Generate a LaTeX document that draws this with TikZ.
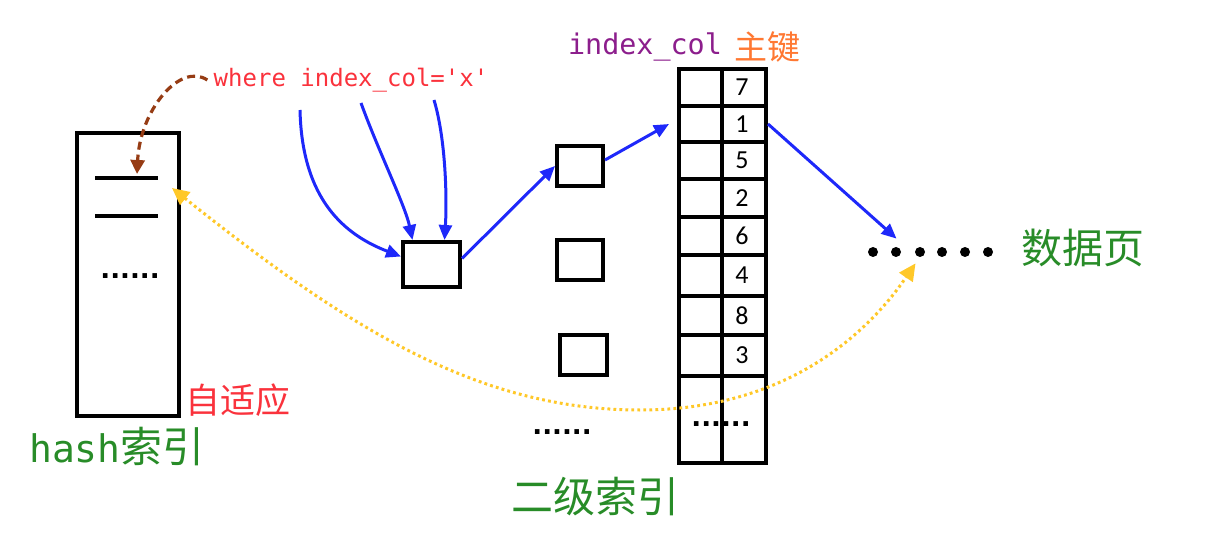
\documentclass[tikz,border=0pt]{standalone}
\usepackage{fontspec}
\setmonofont{DejaVu Sans Mono}
\newfontfamily\cjk{Noto Sans CJK SC}
\newfontfamily\numf{Carlito}
\newfontfamily\dotf{DejaVu Sans}
\usetikzlibrary{arrows.meta,calc,fit}
\definecolor{myblue}{RGB}{30,40,250}
\definecolor{myred}{RGB}{250,50,60}
\definecolor{mybrown}{RGB}{150,60,20}
\definecolor{myyellow}{RGB}{255,200,40}
\definecolor{mygreen}{RGB}{40,140,40}
\definecolor{mypurple}{RGB}{140,30,140}
\definecolor{myorange}{RGB}{255,120,50}
\begin{document}
\begin{tikzpicture}[x=0.5pt,y=-0.5pt,
  box/.style={draw,line width=2pt,inner sep=0pt},
  cellbox/.style={draw,line width=2pt,inner sep=0pt},
  bluearrow/.style={draw=myblue,line width=1.5pt,-{Triangle[length=7.5pt,width=6.5pt]}},
  brownarrow/.style={draw=mybrown,line width=1.6pt,dash pattern=on 4pt off 2.5pt,-{Triangle[length=7pt,width=7pt]}},
  yellowarrow/.style={draw=myyellow,line width=1.5pt,dash pattern=on 1.4pt off 1.6pt,{Triangle[length=8.5pt,width=8pt]}-{Triangle[length=8.5pt,width=8pt]}},
  dotstext/.style={font=\dotf\bfseries\fontsize{13}{13}\selectfont,inner sep=0pt},
  numtext/.style={font=\numf\fontsize{13}{13}\selectfont,inner sep=0pt},
  bigdot/.style={circle,fill=black,inner sep=0pt,minimum size=5pt}
]
\useasboundingbox (0,0) rectangle (1224,550);
% hash index box
\node[box,minimum width=51pt,minimum height=141.5pt] (hash) at (128,274.5) {};
\draw[line width=2pt] (95,178) -- (158,178);
\draw[line width=2pt] (95,216) -- (158,216);
\node[dotstext] (hdots) at (130,276) {......};
\coordinate (line1top) at (137,174);
\coordinate (line1right) at (172,188);
% texts
\node[inner sep=0pt,text=myred,font=\ttfamily\fontsize{12}{12}\selectfont] (where) at (351,80) {where index\_col='x'};
\node[inner sep=0pt,text=myred,font=\cjk\fontsize{17.5}{17.5}\selectfont] (adapt) at (238,400) {自适应};
\node[inner sep=0pt,text=mygreen] (hashlabel) at (117,447) {{\ttfamily\fontsize{19}{19}\selectfont hash}{\cjk\fontsize{21}{21}\selectfont 索引}};
\node[inner sep=0pt,text=mygreen,font=\cjk\fontsize{21}{21}\selectfont] (sec) at (595,497) {二级索引};
\node[inner sep=0pt,text=mygreen,font=\cjk\fontsize{20.5}{20.5}\selectfont] (datalabel) at (1083,248) {数据页};
\node[inner sep=0pt,text=mypurple,font=\ttfamily\fontsize{14.2}{14.2}\selectfont] (icol) at (645,47) {index\_col};
\node[inner sep=0pt,text=myorange,font=\cjk\fontsize{16.5}{16.5}\selectfont] (pk) at (767,47) {主键};
% small boxes
\node[box,minimum width=28.5pt,minimum height=22.5pt] (A) at (431.5,264.5) {};
\node[box,minimum width=23pt,minimum height=20pt] (B) at (580,166) {};
\node[box,minimum width=23pt,minimum height=20pt] (C) at (580,260) {};
\node[box,minimum width=23.5pt,minimum height=20pt] (D) at (583.5,355) {};
\node[dotstext] (mdots) at (562,432) {......};
% table
\foreach \t/\b/\n/\i in {69/106/7/1,106/142/1/2,142/179/5/3,179/217/2/4,217/255/6/5,255/296/4/6,296/335/8/7,335/376/3/8}{
  \node[cellbox,fit={(679,\t)(722,\b)}] (l\i) {};
  \node[cellbox,fit={(722,\t)(766,\b)}] (r\i) {};
  \node[numtext] (n\i) at ($(r\i.center)+(-1pt,0)$) {\n};
}
\node[cellbox,fit={(679,376)(722,463)}] (l9) {};
\node[cellbox,fit={(722,376)(766,463)}] (r9) {};
\node[dotstext] (tdots) at (721,424) {......};
% data dots
\node[inner sep=0pt,fit={(868,247)(993,257)}] (data) {};
\foreach \x [count=\k] in {873,896,920,942,965,988}{
  \node[bigdot] (dd\k) at (\x,252) {};
}
% where arrows
\coordinate (w1) at (300,110);
\coordinate (w2) at (361,103);
\coordinate (w3) at (434,100);
\draw[bluearrow] (w1) .. controls (302,200) and (345,235) .. ([yshift=4pt]A.west);
\draw[bluearrow] (w2) .. controls (378,150) and (405,205) .. ([xshift=-9.5pt]A.north);
\draw[bluearrow] (w3) .. controls (446,140) and (447,200) .. ([xshift=6.5pt]A.north);
\draw[bluearrow] ([yshift=3pt]A.east) -- ([yshift=0pt]B.west);
\draw[bluearrow] ([yshift=3pt]B.east) -- ([xshift=-4pt]l2.west);
\draw[bluearrow] (r2.east) -- ([xshift=-17pt,yshift=4pt]data.north);
% brown dashed
\draw[brownarrow] ([xshift=-3pt]where.west) .. controls (180,62) and (140,110) .. (line1top);
% yellow dotted
\draw[yellowarrow] (line1right) .. controls (350,330) and (480,410) .. (640,410) .. controls (790,410) and (870,330) .. ([xshift=-7.5pt,yshift=-3pt]data.south);
\end{tikzpicture}
\end{document}
